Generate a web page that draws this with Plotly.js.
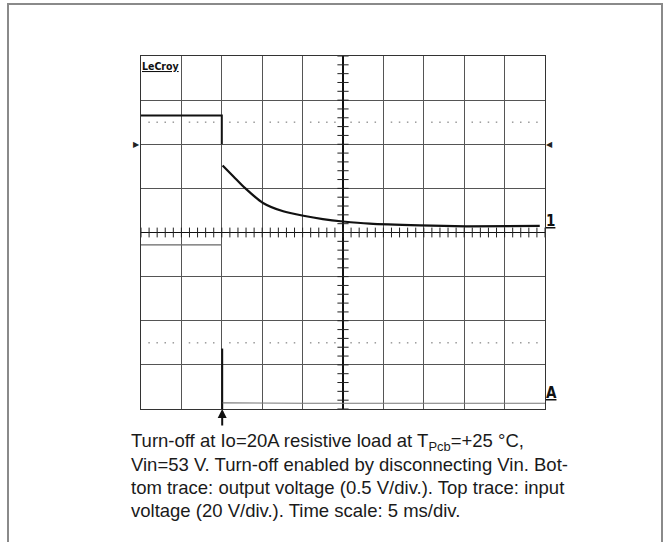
<!DOCTYPE html>
<html>
<head>
<meta charset="utf-8">
<script src="https://cdn.plot.ly/plotly-3.0.1.min.js"></script>
<style>html,body{margin:0;padding:0;background:#fff;}#chart{width:664px;height:542px;}</style>
</head>
<body>
<div id="chart"></div>
<script>
// Time in divisions from screen centre (5 ms/div), voltage in divisions from centre
const inputX = [-5, -3, -3];
const inputY = [2.65, 2.65, 2.0];
const decayX = [-2.98, -2.7, -2.43, -1.98, -1.48, -0.98, -0.5, 0, 0.66, 1.9, 3.05, 4.87];
const decayY = [1.52, 1.26, 1.01, 0.67, 0.48, 0.38, 0.305, 0.25, 0.2, 0.16, 0.14, 0.15];
const preX = [-5, -3];
const preY = [-0.28, -0.28];
const edgeX = [-2.99, -2.99];
const edgeY = [-2.63, -4];
const outX = [-2.98, -2.0, -1.0, 0, 1, 2, 3, 4, 5];
const outY = [-3.86, -3.87, -3.87, -3.87, -3.87, -3.87, -3.87, -3.87, -3.87];
const captionLines = [
  "Turn-off at Io=20A resistive load at T<sub>Pcb</sub>=+25 °C,",
  "Vin=53 V. Turn-off enabled by disconnecting Vin. Bot-",
  "tom trace: output voltage (0.5 V/div.). Top trace: input",
  "voltage (20 V/div.). Time scale: 5 ms/div."
];

// plot area geometry (pixels) used to convert layout positions
const W = 664, H = 542, L = 141, R = 119, T = 56, B = 133;
const pw = W - L - R, ph = H - T - B;
const px = v => (v - L) / pw;
const py = v => (H - B - v) / ph;

// graticule minor ticks and dotted lines
const tickVX = [], tickVY = [], tickHX = [], tickHY = [];
for (let k = -20; k <= 20; k++) { tickVX.push(0); tickVY.push(k * 0.2); }
for (let k = -25; k <= 25; k++) { tickHX.push(k * 0.2); tickHY.push(0); }
const dotX = [], dotY = [];
for (let k = -25; k <= 25; k++) {
  if (k % 5 === 0) continue;
  dotX.push(k * 0.2, k * 0.2); dotY.push(2.5, -2.5);
}

const traces = [
  {x: dotX, y: dotY, mode: 'markers', marker: {symbol: 'square', size: 1.5, color: '#9a9a9a'}, hoverinfo: 'skip'},
  {x: tickVX, y: tickVY, mode: 'markers', marker: {symbol: 'line-ew', size: 8, line: {width: 1, color: '#222'}}, hoverinfo: 'skip'},
  {x: tickHX, y: tickHY, mode: 'markers', marker: {symbol: 'line-ns', size: 7, line: {width: 1, color: '#222'}}, hoverinfo: 'skip'},
  {x: inputX, y: inputY, mode: 'lines', line: {color: '#111', width: 2}},
  {x: decayX, y: decayY, mode: 'lines', line: {color: '#111', width: 2.2, shape: 'spline', smoothing: 0.6}},
  {x: preX, y: preY, mode: 'lines', line: {color: '#666', width: 1.3}},
  {x: edgeX, y: edgeY, mode: 'lines', line: {color: '#111', width: 2}},
  {x: outX, y: outY, mode: 'lines', line: {color: '#777', width: 1.2}}
];

const annotations = [
  {xref: 'paper', yref: 'paper', x: px(140), y: py(58), xanchor: 'left', yanchor: 'top', showarrow: false,
   text: '<u><b>LeCroy</b></u>', font: {family: 'DejaVu Sans Condensed', size: 10.5, color: '#111'}},
  {x: 5, y: 0.25, xanchor: 'left', yanchor: 'middle', xshift: -1, showarrow: false,
   text: '<u><b>1</b></u>', font: {family: 'DejaVu Sans Condensed', size: 15, color: '#111'}},
  {x: 5, y: -3.64, xanchor: 'left', yanchor: 'middle', xshift: -1, showarrow: false,
   text: '<u><b>A</b></u>', font: {family: 'DejaVu Sans Condensed', size: 15, color: '#111'}},
  {x: -5, y: 2, xanchor: 'right', yanchor: 'middle', xshift: 1, showarrow: false,
   text: '▶', font: {family: 'DejaVu Sans', size: 8, color: '#222'}},
  {x: 5, y: 2, xanchor: 'left', yanchor: 'middle', xshift: -1, showarrow: false,
   text: '◀', font: {family: 'DejaVu Sans', size: 8, color: '#222'}},
  {x: -2.99, y: -4, ax: 0, ay: 18, text: '', showarrow: true, arrowhead: 2, arrowsize: 0.9, arrowwidth: 2, arrowcolor: '#111'}
];
captionLines.forEach((t, i) => {
  annotations.push({xref: 'paper', yref: 'paper', x: px(128.5), y: py(442 + i * 22.7), xanchor: 'left', yanchor: 'middle',
    showarrow: false, align: 'left', text: t, font: {family: 'Liberation Sans, Arial, sans-serif', size: 18.5, color: '#1a1a1a'}});
});

const layout = {
  width: W, height: H,
  margin: {l: L, r: R, t: T, b: B, pad: 0},
  paper_bgcolor: '#fff', plot_bgcolor: '#fff',
  showlegend: false,
  xaxis: {range: [-5, 5], dtick: 1, showgrid: true, gridcolor: '#555', gridwidth: 1,
          zeroline: true, zerolinecolor: '#111', zerolinewidth: 1.4,
          showline: true, mirror: true, linecolor: '#333', linewidth: 1.2, showticklabels: false, ticks: ''},
  yaxis: {range: [-4, 4], dtick: 1, showgrid: true, gridcolor: '#555', gridwidth: 1,
          zeroline: true, zerolinecolor: '#111', zerolinewidth: 1.4,
          showline: true, mirror: true, linecolor: '#333', linewidth: 1.2, showticklabels: false, ticks: ''},
  shapes: [
    {type: 'rect', xref: 'paper', yref: 'paper', x0: px(8), x1: px(662), y0: py(4), y1: py(580),
     line: {color: '#8a8a8a', width: 2}, fillcolor: 'rgba(0,0,0,0)', layer: 'below'}
  ],
  annotations: annotations
};

Plotly.newPlot('chart', traces, layout, {staticPlot: true, displayModeBar: false});
</script>
</body>
</html>
